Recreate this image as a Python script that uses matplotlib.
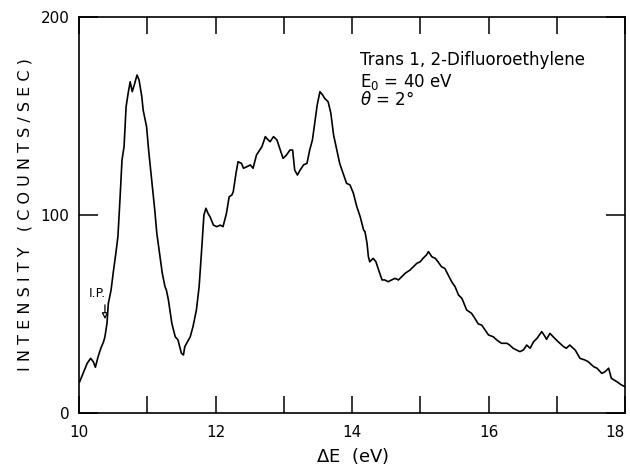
import matplotlib
matplotlib.use("Agg")
import matplotlib.pyplot as plt
from matplotlib.ticker import MultipleLocator, FixedLocator

# energy loss (eV) and intensity (counts/sec)
energy = [10.01, 10.06, 10.12, 10.17, 10.21, 10.24, 10.28, 10.32, 10.36, 10.38,
          10.41, 10.43, 10.47, 10.50, 10.54, 10.57, 10.60, 10.63, 10.66, 10.69,
          10.72, 10.75, 10.78, 10.81, 10.85, 10.88, 10.92, 10.94, 10.99, 11.02,
          11.07, 11.11, 11.14, 11.18, 11.22, 11.26, 11.28, 11.31, 11.36, 11.41,
          11.45, 11.50, 11.53, 11.55, 11.63, 11.67, 11.72, 11.76, 11.80, 11.83,
          11.86, 11.89, 11.92, 11.97, 12.02, 12.07, 12.11, 12.16, 12.20, 12.24,
          12.26, 12.30, 12.33, 12.38, 12.41, 12.46, 12.51, 12.55, 12.60, 12.68,
          12.73, 12.75, 12.80, 12.85, 12.90, 12.95, 12.99, 13.04, 13.09, 13.13,
          13.16, 13.20, 13.24, 13.29, 13.34, 13.38, 13.42, 13.46, 13.49, 13.53,
          13.57, 13.60, 13.65, 13.69, 13.73, 13.78, 13.82, 13.87, 13.92, 13.97,
          14.02, 14.07, 14.12, 14.17, 14.19, 14.22, 14.24, 14.26, 14.31, 14.35,
          14.39, 14.44, 14.48, 14.53, 14.58, 14.63, 14.68, 14.73, 14.78, 14.85,
          14.90, 14.95, 15.00, 15.04, 15.09, 15.12, 15.17, 15.22, 15.26, 15.31,
          15.36, 15.41, 15.46, 15.51, 15.56, 15.61, 15.66, 15.68, 15.75, 15.80,
          15.85, 15.90, 15.95, 16.00, 16.07, 16.12, 16.19, 16.27, 16.31, 16.36,
          16.41, 16.46, 16.51, 16.56, 16.61, 16.66, 16.71, 16.78, 16.83, 16.85,
          16.90, 16.97, 17.02, 17.10, 17.14, 17.19, 17.27, 17.34, 17.41, 17.46,
          17.54, 17.59, 17.66, 17.71, 17.76, 17.80, 17.88, 17.95, 18.00]
counts = [15.8, 20.0, 25.1, 27.6, 25.9, 23.1, 28.5, 32.7, 36.0, 38.5,
          45.3, 55.4, 62.1, 70.5, 80.7, 89.1, 107.6, 127.8, 134.5, 154.7,
          161.5, 167.3, 162.3, 165.7, 170.7, 168.2, 159.8, 153.0, 144.6, 132.8,
          116.0, 102.5, 90.8, 80.7, 70.6, 63.8, 62.1, 57.1, 45.3, 38.5,
          36.9, 30.2, 29.3, 33.5, 38.5, 43.6, 52.0, 63.8, 84.0, 100.0,
          103.4, 100.8, 99.1, 94.9, 94.1, 94.9, 94.1, 100.8, 109.2, 110.1,
          111.8, 121.0, 126.9, 126.1, 123.6, 124.4, 125.3, 123.6, 130.3, 134.5,
          139.6, 138.7, 137.0, 139.6, 137.9, 132.8, 128.6, 130.3, 132.8, 132.8,
          122.7, 120.2, 122.7, 125.3, 126.1, 132.8, 137.9, 148.0, 155.6, 162.3,
          160.6, 158.9, 157.2, 151.4, 140.4, 132.4, 126.0, 121.0, 116.0, 115.2,
          111.0, 104.2, 99.1, 92.4, 91.6, 85.7, 78.9, 76.4, 78.1, 76.4,
          72.2, 67.2, 67.2, 66.3, 67.2, 68.0, 67.2, 68.9, 70.6, 72.2,
          73.9, 75.6, 76.4, 78.1, 79.8, 81.5, 78.9, 78.1, 76.4, 73.9,
          73.0, 69.7, 66.3, 63.8, 59.6, 57.9, 53.7, 52.0, 50.4, 47.8,
          45.0, 44.4, 41.9, 39.4, 38.5, 36.9, 35.2, 35.2, 34.3, 32.7,
          31.8, 31.0, 31.8, 34.3, 32.7, 36.0, 37.7, 41.1, 38.5, 37.2,
          40.2, 37.7, 36.0, 33.5, 32.7, 34.3, 31.8, 27.6, 26.8, 25.9,
          23.4, 22.6, 20.0, 20.9, 22.6, 17.5, 15.8, 14.1, 13.3]

x_labels = [10, 12, 14, 16, 18]
y_labels = [0, 100, 200]
ip_energy = 10.38

plt.rcParams['font.family'] = 'DejaVu Sans'

fig = plt.figure(figsize=(6.3, 4.7), dpi=100)
ax = fig.add_axes([0.1254, 0.1213, 0.8667, 0.8425])

ax.plot(energy, counts, color='black', lw=1.2)

ax.set_xlim(10, 18)
ax.set_ylim(0, 200)
ax.xaxis.set_major_locator(FixedLocator(x_labels))
ax.xaxis.set_minor_locator(MultipleLocator(1))
ax.yaxis.set_major_locator(FixedLocator(y_labels))
ax.tick_params(which='both', direction='in', top=True, right=True,
               length=12, width=1.1, labelsize=11, pad=9)
ax.tick_params(axis='y', length=14, pad=7)
for s in ax.spines.values():
    s.set_linewidth(1.2)

# keep the last x label inside the figure
fig.canvas.draw()
ax.get_xticklabels()[-1].set_horizontalalignment('right')

ax.set_xlabel(r'$\Delta$E  (eV)', fontsize=13, labelpad=4)
ax.set_ylabel('I N T E N S I T Y   ( C O U N T S / S E C )', fontsize=11.5, labelpad=6)

ax.text(0.515, 0.915, 'Trans 1, 2-Difluoroethylene', transform=ax.transAxes,
        fontsize=12, va='top')
ax.text(0.515, 0.862, r'E$_\mathrm{0}$ = 40 eV', transform=ax.transAxes,
        fontsize=12, va='top')
ax.text(0.515, 0.812, r'$\theta$ = 2°', transform=ax.transAxes,
        fontsize=12, va='top')

# ionization potential marker
ax.annotate('', xy=(ip_energy, 46), xytext=(ip_energy, 56),
            arrowprops=dict(arrowstyle='-|>', fc='white', ec='black',
                            lw=0.9, mutation_scale=9))
ax.text(ip_energy + 0.02, 57, 'I.P.', fontsize=9, ha='right', va='bottom')

fig.savefig('out.png', dpi=100)
